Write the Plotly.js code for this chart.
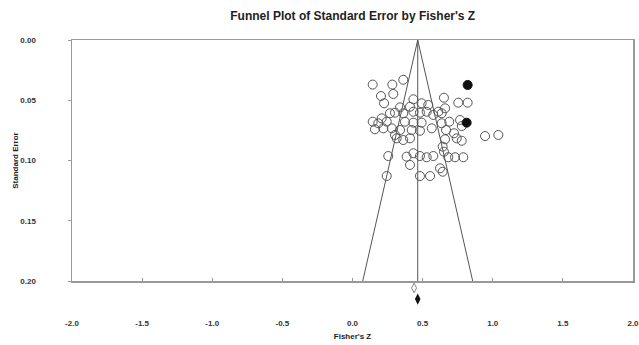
<!DOCTYPE html>
<html>
<head>
<meta charset="utf-8">
<script src="https://cdn.plot.ly/plotly-3.0.1.min.js"></script>
<style>html,body{margin:0;padding:0;background:#fff;}#chart{width:639px;height:345px;}</style>
</head>
<body>
<div id="chart"></div>
<script>
// Observed studies: Fisher's Z and standard error
const studyZ = [0.144,0.284,0.362,0.203,0.291,0.225,0.434,0.493,0.540,0.339,0.410,0.267,0.303,0.362,0.434,0.481,0.529,0.208,0.144,0.184,0.244,0.374,0.434,0.493,0.160,0.220,0.280,0.339,0.422,0.481,0.565,0.303,0.315,0.362,0.410,0.386,0.434,0.481,0.529,0.576,0.255,0.410,0.244,0.481,0.553,
  0.652,0.754,0.821,0.660,0.612,0.576,0.636,0.690,0.636,0.767,0.779,0.667,0.724,0.743,0.779,0.660,0.945,1.040,0.643,0.652,0.683,0.731,0.790,0.624,0.643];
const studySE = [0.037,0.037,0.033,0.0465,0.0448,0.0525,0.0492,0.0525,0.0539,0.0559,0.0554,0.0608,0.0603,0.0608,0.0595,0.0603,0.0595,0.065,0.0678,0.0691,0.0678,0.0678,0.0686,0.0686,0.0741,0.0733,0.0733,0.0747,0.0747,0.0753,0.0733,0.0788,0.0816,0.083,0.0816,0.0968,0.094,0.0963,0.0973,0.0963,0.0963,0.1037,0.1129,0.1129,0.1129,
  0.0479,0.052,0.052,0.0567,0.0595,0.0622,0.0608,0.0678,0.0691,0.0664,0.0714,0.0747,0.0774,0.0816,0.0836,0.0824,0.0797,0.0788,0.0885,0.0927,0.0973,0.0973,0.0973,0.1065,0.1093];
// Imputed studies (trim and fill)
const imputedZ = [0.821, 0.814];
const imputedSE = [0.0373, 0.0686];
// Combined effects
const observedMeanZ = 0.439;
const observedMeanSE = 0.2058;
const adjustedMeanZ = 0.465;
const adjustedMeanSE = 0.215;
const funnelMaxSE = 0.2;
const zCrit = 1.96;
const xTicks = [-2.0,-1.5,-1.0,-0.5,0.0,0.5,1.0,1.5,2.0];
const yTicks = [0.00,0.05,0.10,0.15,0.20];

// geometry: full plot area 40..305 px, visible box 40..281 px
const marginT = 40, marginB = 40, H = 345 - marginT - marginB;
const boxH = 241;
const extraSE = funnelMaxSE * (H - boxH) / boxH;
const yDomainBottom = (H - boxH) / H;

const lineCol = '#555';
const traces = [
  {x:[adjustedMeanZ - zCrit*funnelMaxSE, adjustedMeanZ, adjustedMeanZ + zCrit*funnelMaxSE],
   y:[funnelMaxSE, 0, funnelMaxSE], mode:'lines', line:{color:lineCol, width:1}, hoverinfo:'skip'},
  {x:[adjustedMeanZ, adjustedMeanZ], y:[0, funnelMaxSE], mode:'lines', line:{color:lineCol, width:1}, hoverinfo:'skip'},
  {x:studyZ, y:studySE, mode:'markers', marker:{symbol:'circle-open', size:9, color:'#555', line:{width:1, color:'#555'}}},
  {x:imputedZ, y:imputedSE, mode:'markers', marker:{symbol:'circle', size:9, color:'#111', line:{width:1, color:'#111'}}},
  {x:[observedMeanZ], y:[observedMeanSE], yaxis:'y2', mode:'markers', marker:{symbol:'diamond-tall-open', size:7, color:'#888', line:{width:1, color:'#888'}}},
  {x:[adjustedMeanZ], y:[adjustedMeanSE], yaxis:'y2', mode:'markers', marker:{symbol:'diamond-tall', size:8, color:'#111', line:{width:0}}}
];

const tickFont = {family:'Liberation Sans, Arial, sans-serif', size:8, color:'#333', weight:'bold'};
const layout = {
  width:639, height:345,
  margin:{l:72, r:6, t:marginT, b:marginB},
  paper_bgcolor:'#fff', plot_bgcolor:'rgba(0,0,0,0)',
  showlegend:false,
  title:{text:"Funnel Plot of Standard Error by Fisher's Z", x:0.552, xanchor:'center', y:0.955, yanchor:'middle',
         font:{family:'Liberation Sans, Arial, sans-serif', size:12, color:'#222', weight:'bold'}},
  xaxis:{range:[-2,2], anchor:'y', tickvals:xTicks, ticktext:xTicks.map(v=>v.toFixed(1)),
         showline:true, mirror:true, linecolor:'#999', linewidth:1.5, showgrid:false, zeroline:false,
         ticks:'inside', ticklen:3, tickcolor:'#999', ticklabelstandoff:34, ticklabeloverflow:'allow', tickfont:tickFont,
         title:{text:"Fisher's Z", font:{family:'Liberation Sans, Arial, sans-serif', size:8, color:'#222', weight:'bold'}, standoff:6}},
  yaxis:{range:[funnelMaxSE,0], domain:[yDomainBottom,1], anchor:'x', tickvals:yTicks, ticktext:yTicks.map(v=>v.toFixed(2)),
         showline:true, mirror:true, linecolor:'#999', linewidth:1.5, showgrid:false, zeroline:false,
         ticks:'outside', ticklen:3, tickcolor:'#999', ticklabelstandoff:30, tickfont:tickFont,
         title:{text:'Standard Error', font:{family:'Liberation Sans, Arial, sans-serif', size:8, color:'#222', weight:'bold'}, standoff:0}},
  yaxis2:{range:[funnelMaxSE + extraSE, 0], domain:[0,1], anchor:'free', position:0, visible:false,
          showline:false, showgrid:false, zeroline:false, showticklabels:false}
};
Plotly.newPlot('chart', traces, layout, {staticPlot:true, displayModeBar:false});
</script>
</body>
</html>
